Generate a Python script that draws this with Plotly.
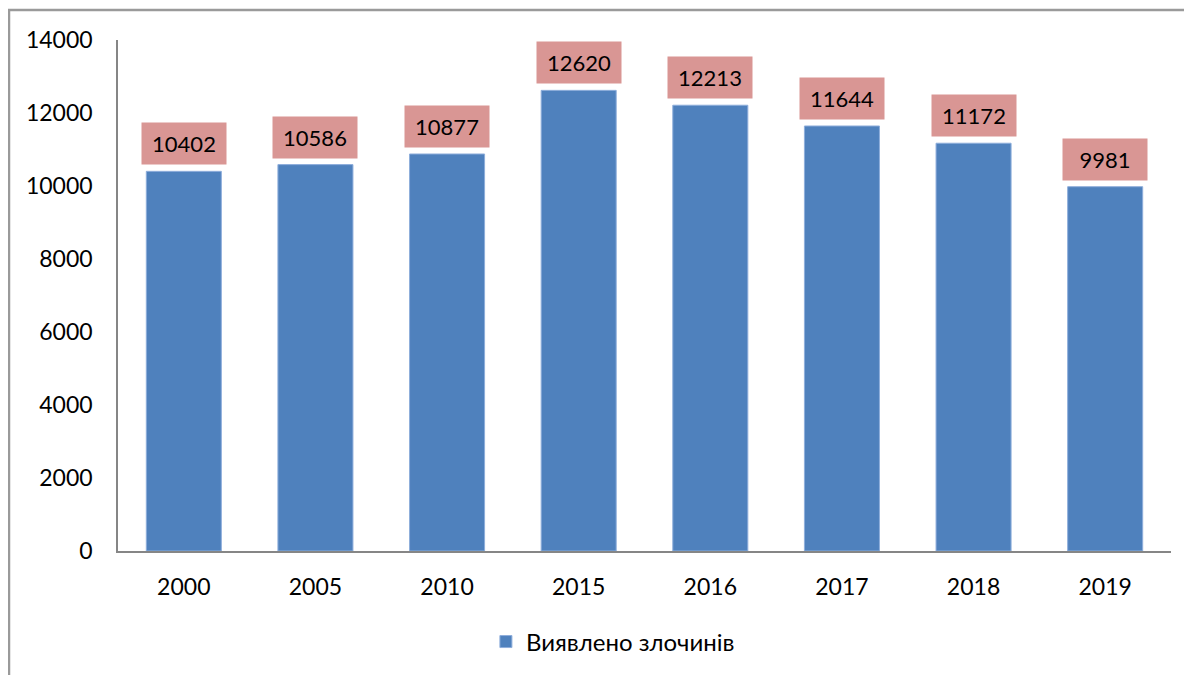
import plotly.graph_objects as go

years = ["2000", "2005", "2010", "2015", "2016", "2017", "2018", "2019"]
values = [10402, 10586, 10877, 12620, 12213, 11644, 11172, 9981]
series_name = "Виявлено злочинів"
y_ticks = [0, 2000, 4000, 6000, 8000, 10000, 12000, 14000]

FONT = "Lato, 'Open Sans', sans-serif"

# page has an 8px body margin, so the figure is sized/positioned to compensate
W, H = 1184, 667
ML, MR, MT, MB = 110, 21, 32, 124
PW, PH = W - ML - MR, H - MT - MB

fig = go.Figure()
fig.add_trace(go.Bar(
    x=years, y=values, name=series_name,
    marker=dict(color="#4F81BD", line=dict(color="#8EAEDB", width=1)),
))

for i, v in enumerate(values):
    fig.add_annotation(
        x=i, y=v, xref="x", yref="y", text=str(v),
        showarrow=False, yanchor="bottom", yshift=6,
        bgcolor="#D99694", width=82, height=39,
        font=dict(family=FONT, size=22, color="#000000"),
    )

# outer chart frame (extends past right and bottom edges)
fig.add_shape(type="rect", xref="paper", yref="paper",
              x0=(1 - ML) / PW, x1=(W + 20 - ML) / PW,
              y0=-(MB + 20) / PH, y1=1 + (MT - 2) / PH,
              line=dict(color="#9A9A9A", width=2.5), layer="below")

fig.update_layout(
    width=W, height=H,
    margin=dict(l=ML, r=MR, t=MT, b=MB, autoexpand=False),
    paper_bgcolor="white", plot_bgcolor="white",
    font=dict(family=FONT, size=23, color="#000000"),
    showlegend=True,
    legend=dict(orientation="h", x=0.47, xanchor="center", y=-0.178, yanchor="middle",
                font=dict(family=FONT, size=24)),
    bargap=0.43,
)
fig.update_xaxes(type="category", showline=True, linecolor="#868686", linewidth=1.5,
                 ticks="", ticklabelstandoff=15, showgrid=False,
                 tickfont=dict(family=FONT, size=23))
fig.update_yaxes(range=[0, 14000], tickvals=y_ticks, ticktext=[str(t) for t in y_ticks],
                 showline=True, linecolor="#868686", linewidth=1.5, showgrid=False,
                 zeroline=False, ticks="", ticklabelstandoff=19,
                 tickfont=dict(family=FONT, size=23))

fig.write_html("out.html")
